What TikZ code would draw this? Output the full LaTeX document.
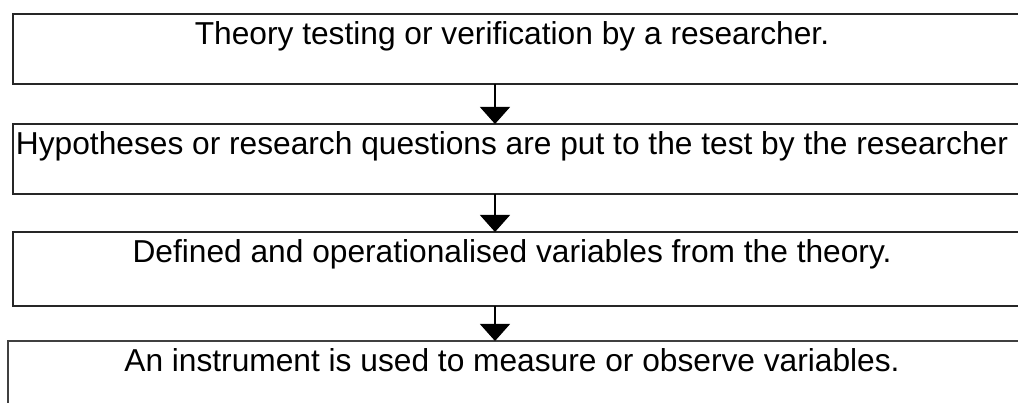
\documentclass[tikz,border=0pt]{standalone}
\usepackage{fontspec}
\setmainfont{Liberation Sans}
\usetikzlibrary{arrows.meta}

\tikzset{
  stagebox/.style={draw=black!85, line width=1.3pt, inner sep=0pt, outer sep=0pt,
    minimum width=1030pt, anchor=north west},
  stagetext/.style={anchor=base, inner sep=0pt, font=\fontsize{31.7}{38}\selectfont},
  flow/.style={line width=1.2pt, -{Triangle[width=30pt,length=17pt]}}
}

\begin{document}
\begin{tikzpicture}[x=1pt, y=-1pt]
    \useasboundingbox (0,0) rectangle (1018,403);
    \node [stagebox, minimum height=70pt] (b1) at (13,14) {};
    \node [stagebox, minimum height=70pt] (b2) at (13,124) {};
    \node [stagebox, minimum height=74pt] (b3) at (13,232) {};
    \node [stagebox, minimum height=90pt, line width=1.8pt, draw=black!75] (b4) at (8,341) {};
    \node [stagetext] (t1) at (512,45) {Theory testing or verification by a researcher.};
    \node [stagetext] (t2) at (512,155) {Hypotheses or research questions are put to the test by the researcher};
    \node [stagetext] (t3) at (512,263) {Defined and operationalised variables from the theory.};
    \node [stagetext] (t4) at (512,372) {An instrument is used to measure or observe variables.};
    \coordinate (mid) at (495,0);
    \draw [flow] (b1.south -| mid) to (b2.north -| mid);
    \draw [flow] (b2.south -| mid) to (b3.north -| mid);
    \draw [flow] (b3.south -| mid) to (b4.north -| mid);
\end{tikzpicture}
\end{document}
